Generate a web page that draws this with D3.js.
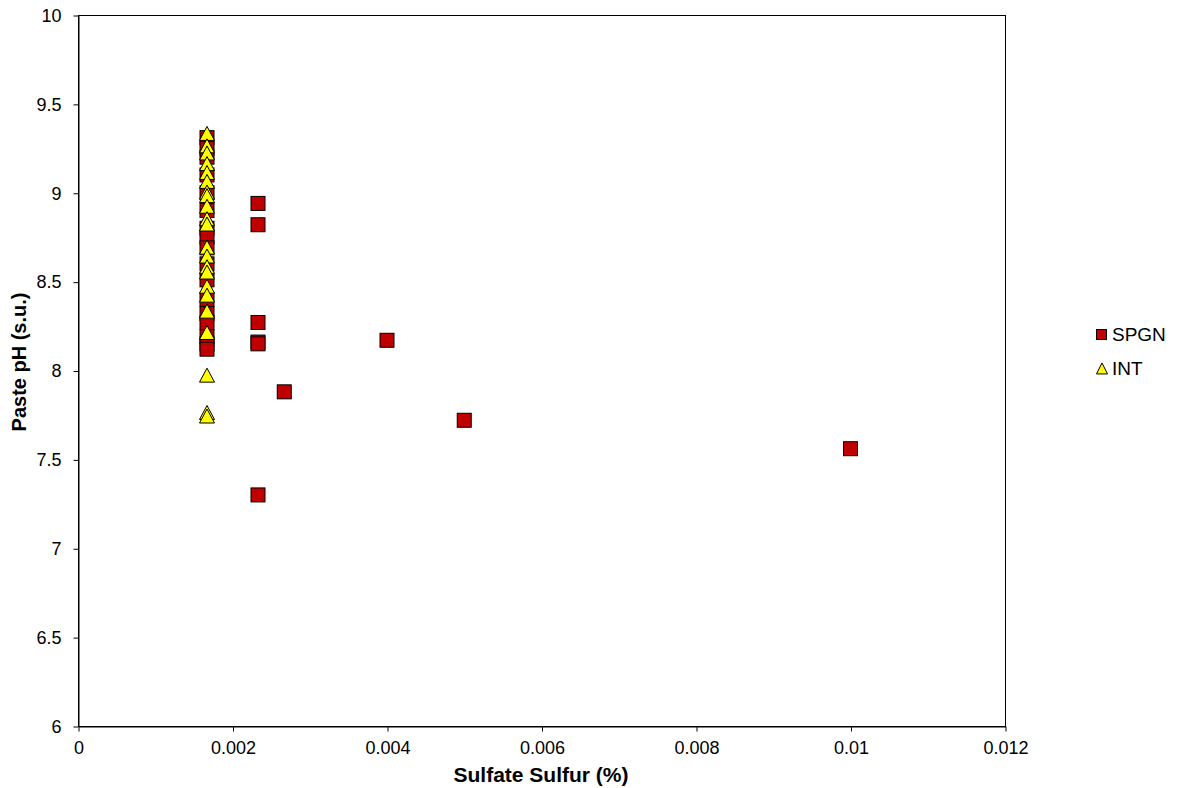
<!DOCTYPE html>
<html lang="en">
<head>
<meta charset="utf-8">
<title>Paste pH vs Sulfate Sulfur</title>
<script src="https://cdn.jsdelivr.net/npm/d3@7"></script>
<style>
  body { margin: 0; background: #fff; }
  text { font-family: "Liberation Sans", Arial, sans-serif; }
</style>
</head>
<body>
<script>
// data
var spgnX = [0.00167, 0.00167, 0.00167, 0.00167, 0.00167, 0.00167, 0.00167, 0.00167, 0.00167, 0.00167,
             0.00167, 0.00167, 0.00167, 0.00167, 0.00167, 0.00167, 0.00167,
             0.00233, 0.00233, 0.00233, 0.00233, 0.00233, 0.00233, 0.00267, 0.004, 0.005, 0.01];
var spgnY = [9.31, 9.25, 9.2, 9.1, 9.0, 8.9, 8.8, 8.75, 8.69, 8.6, 8.51, 8.4, 8.32, 8.27, 8.19, 8.15, 8.12,
             8.94, 8.82, 8.27, 8.16, 8.15, 7.30, 7.88, 8.17, 7.72, 7.56];
var intX = [];
var intY = [9.33, 9.26, 9.22, 9.16, 9.11, 9.06, 9.0, 8.98, 8.92, 8.85, 8.82, 8.69, 8.64, 8.58, 8.55,
            8.47, 8.42, 8.33, 8.21, 7.97, 7.76, 7.74];
intY.forEach(function() { intX.push(0.00167); });
var xTicks = [0, 0.002, 0.004, 0.006, 0.008, 0.01, 0.012];
var yTicks = [6, 6.5, 7, 7.5, 8, 8.5, 9, 9.5, 10];
var seriesNames = ["SPGN", "INT"];

var w = 1185, h = 788;
// plot area edges (avoid "top", it is window.top)
var pL = 78, pR = 1005, pT = 15, pB = 726;

var svg = d3.select("body").append("svg")
  .attr("width", w).attr("height", h);

var xScale = d3.scaleLinear().domain([0, 0.012]).range([pL, pR]);
var yScale = d3.scaleLinear().domain([6, 10]).range([pB, pT]);

// frame
svg.append("rect")
  .attr("x", pL + 0.5).attr("y", pT + 0.5)
  .attr("width", pR - pL).attr("height", pB - pT)
  .attr("fill", "none").attr("stroke", "#000").attr("stroke-width", 1);

var xAxis = svg.append("g")
  .attr("transform", "translate(0.5," + (pB + 0.5) + ")")
  .call(d3.axisBottom(xScale).tickValues(xTicks).tickSize(5).tickPadding(10).tickSizeOuter(0)
    .tickFormat(function(d) { return d === 0 ? "0" : String(+d.toFixed(3)); }));
var yAxis = svg.append("g")
  .attr("transform", "translate(" + (pL + 0.5) + ",0.5)")
  .call(d3.axisLeft(yScale).tickValues(yTicks).tickSize(5).tickPadding(12).tickSizeOuter(0)
    .tickFormat(function(d) { return String(d); }));
[xAxis, yAxis].forEach(function(a) {
  a.select(".domain").attr("stroke", "#000");
  a.selectAll(".tick line").attr("stroke", "#000");
  a.selectAll(".tick text").attr("font-size", "18px").attr("fill", "#000")
    .attr("font-family", "Liberation Sans, Arial, sans-serif");
});

// axis titles
svg.append("text")
  .attr("x", 541).attr("y", 782)
  .attr("text-anchor", "middle")
  .attr("font-size", "21px").attr("font-weight", "bold")
  .text("Sulfate Sulfur (%)");
svg.append("text")
  .attr("transform", "translate(26,362) rotate(-90)")
  .attr("text-anchor", "middle")
  .attr("font-size", "20px").attr("font-weight", "bold")
  .text("Paste pH (s.u.)");

var sq = 14;
var triPath = function(cx, cy, tw, th) {
  return "M" + cx + "," + (cy - th * 0.55) +
         "L" + (cx + tw / 2) + "," + (cy + th * 0.45) +
         "L" + (cx - tw / 2) + "," + (cy + th * 0.45) + "Z";
};

// SPGN squares
svg.selectAll("rect.spgn")
  .data(d3.range(spgnX.length))
  .enter().append("rect")
  .attr("class", "spgn")
  .attr("x", function(i) { return xScale(spgnX[i]) - sq / 2; })
  .attr("y", function(i) { return yScale(spgnY[i]) - sq / 2; })
  .attr("width", sq).attr("height", sq)
  .attr("fill", "#c00000").attr("stroke", "#000").attr("stroke-width", 1);

// INT triangles
svg.selectAll("path.int")
  .data(d3.range(intX.length))
  .enter().append("path")
  .attr("class", "int")
  .attr("d", function(i) { return triPath(xScale(intX[i]), yScale(intY[i]), 15, 14); })
  .attr("fill", "#ffff00").attr("stroke", "#000").attr("stroke-width", 1);

// legend
var lg = svg.append("g");
lg.append("rect")
  .attr("x", 1096.5).attr("y", 329.5).attr("width", 10).attr("height", 10)
  .attr("fill", "#c00000").attr("stroke", "#000");
lg.append("path")
  .attr("d", triPath(1102, 369, 11, 11))
  .attr("fill", "#ffff00").attr("stroke", "#000");
lg.selectAll("text")
  .data(seriesNames)
  .enter().append("text")
  .attr("x", 1112)
  .attr("y", function(d, i) { return 341 + i * 34; })
  .attr("font-size", "19px")
  .text(function(d) { return d; });
</script>
</body>
</html>
